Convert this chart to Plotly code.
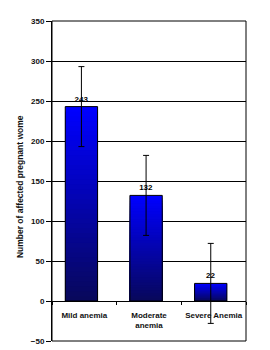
import plotly.graph_objects as go

categories = ["Mild anemia", "Moderate<br>anemia", "Severe Anemia"]
values = [243, 132, 22]
errors = [50, 50, 50]
labels = ["243", "132", "22"]
y_ticks = [-50, 0, 50, 100, 150, 200, 250, 300, 350]

FONT = "Liberation Sans"
N = 40
top_c = (0, 0, 255)
bot_c = (8, 8, 88)

fig = go.Figure()
# gradient: overlay bars of decreasing fraction of each bar's height
for k in range(N, 0, -1):
    f = k / N
    c = tuple(int(round(bot_c[i] + (top_c[i] - bot_c[i]) * f)) for i in range(3))
    fig.add_trace(go.Bar(
        x=categories, y=[v * f for v in values],
        marker=dict(color="rgb(%d,%d,%d)" % c, line=dict(width=0)),
        width=0.5, offset=-0.295, hoverinfo="skip", showlegend=False,
    ))
# outline, error bars and labels
fig.add_trace(go.Bar(
    x=categories, y=values,
    marker=dict(color="rgba(0,0,0,0)", line=dict(color="black", width=1)),
    width=0.5, offset=-0.295,
    error_y=dict(type="data", array=errors, visible=True, color="black",
                 thickness=1, width=3),
    text=labels, textposition="outside", cliponaxis=False,
    textfont=dict(family=FONT, size=8, color="black", weight="bold"),
    showlegend=False,
))

fig.update_layout(
    barmode="overlay",
    width=270, height=350,
    margin=dict(l=52, r=24, t=21, b=9, autoexpand=False),
    paper_bgcolor="white", plot_bgcolor="white",
    font=dict(family=FONT, size=8, color="black"),
    xaxis=dict(
        type="category", range=[-0.5, 2.5],
        anchor="free", position=0.125, automargin=False,
        showline=True, linecolor="black", linewidth=1,
        ticks="outside", tickson="boundaries", ticklen=3, tickcolor="black",
        tickangle=0, ticklabelstandoff=6,
        showgrid=False, zeroline=False,
        tickfont=dict(family=FONT, size=8, color="#111", weight="bold"),
    ),
    yaxis=dict(
        range=[-50, 350], tickvals=y_ticks, automargin=False,
        showline=True, linecolor="black", linewidth=1,
        ticks="outside", ticklen=5, tickcolor="black",
        showgrid=True, gridcolor="black", gridwidth=1,
        zeroline=False,
        tickfont=dict(family=FONT, size=8, color="#111", weight="bold"),
    ),
    shapes=[dict(type="rect", xref="paper", yref="paper", x0=0, x1=1, y0=0, y1=1,
                 line=dict(color="black", width=1), layer="above")],
    annotations=[dict(text="Number of affected pregnant wome", xref="paper", yref="paper",
                      x=-0.165, y=0.484, xanchor="center", yanchor="middle",
                      textangle=-90, showarrow=False,
                      font=dict(family=FONT, size=8.5, color="#111", weight="bold"))],
)

fig.write_html("out.html")
